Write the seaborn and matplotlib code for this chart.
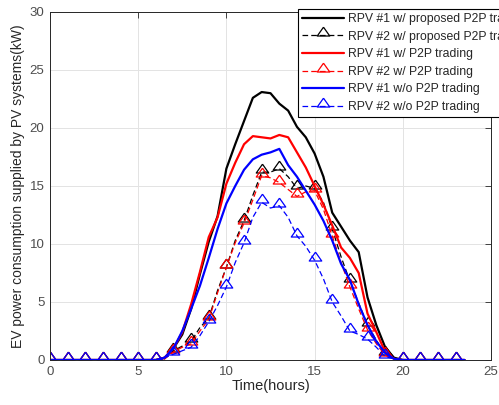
import numpy as np
import pandas as pd
import matplotlib
matplotlib.use('Agg')
import matplotlib.pyplot as plt
import seaborn as sns

# time axis, half-hour steps (0 .. 23.5 h)
hours = [i * 0.5 for i in range(48)]

# RPV #1 / #2 EV power supplied by PV (kW)
rpv1_proposed = [0] * 13 + [0.2, 1.0, 2.2, 4.4, 7.4, 10.2, 12.4, 16.5, 18.6, 20.6, 22.6, 23.1, 23.0, 22.1,
                            21.5, 20.1, 19.2, 17.8, 15.8, 12.7, 11.5, 10.3, 9.3, 5.4, 3.0, 1.1, 0.2] + [0] * 8
rpv2_proposed = [0] * 13 + [0.1, 0.8, 1.2, 1.6, 2.8, 3.6, 6.0, 8.0, 10.3, 12.0, 14.2, 16.2, 16.2, 16.5,
                            15.8, 14.8, 15.0, 14.8, 13.6, 11.3, 8.9, 6.8, 4.9, 3.0, 1.7, 0.5, 0.1] + [0] * 8
rpv1_p2p = [0] * 13 + [0.2, 1.0, 2.4, 4.8, 7.6, 10.6, 12.3, 15.2, 17.0, 18.6, 19.3, 19.2, 19.1, 19.4,
                       19.2, 17.9, 16.6, 15.0, 13.4, 11.6, 9.7, 8.8, 7.5, 4.0, 2.4, 0.7, 0.1] + [0] * 8
rpv2_p2p = [0] * 13 + [0.1, 0.7, 1.1, 1.4, 2.5, 3.5, 5.8, 8.0, 10.1, 11.8, 13.8, 15.9, 15.7, 15.3,
                       14.7, 14.1, 14.5, 14.6, 13.0, 10.7, 8.4, 6.3, 4.4, 2.6, 1.4, 0.4, 0.1] + [0] * 8
rpv1_no_p2p = [0] * 13 + [0.2, 1.0, 2.5, 4.4, 6.4, 8.8, 11.3, 13.5, 15.0, 16.4, 17.3, 17.7, 17.9, 18.2,
                          16.8, 15.8, 14.6, 13.4, 12.0, 10.3, 8.3, 6.9, 4.8, 3.0, 1.6, 0.6, 0.1] + [0] * 8
rpv2_no_p2p = [0] * 13 + [0.2, 0.5, 0.8, 1.1, 2.1, 3.3, 4.7, 6.3, 8.4, 10.1, 12.3, 13.6, 13.1, 13.3,
                          12.3, 10.7, 9.8, 8.6, 7.0, 5.0, 3.8, 2.5, 2.2, 1.8, 1.1, 0.3, 0.1] + [0] * 8

df = pd.DataFrame({'Time': hours,
                   'p1': rpv1_proposed, 'p2': rpv2_proposed,
                   'q1': rpv1_p2p, 'q2': rpv2_p2p,
                   'n1': rpv1_no_p2p, 'n2': rpv2_no_p2p})

sns.set_style('whitegrid')
plt.rcParams['font.family'] = ['Liberation Sans', 'DejaVu Sans']

fig = plt.figure(figsize=(4.99, 4.05), dpi=100)
ax = fig.add_axes([50 / 499, 45 / 405, 441 / 499, 348 / 405])

# triangle with its base on the data point (as in the original)
tri = [(0, 0.8), (-0.6, -0.05), (0.6, -0.05), (0, 0.8)]

series = [
    ('p1', 'k', 'RPV #1 w/ proposed P2P trading', False),
    ('p2', 'k', 'RPV #2 w/ proposed P2P trading', True),
    ('q1', '#ff0000', 'RPV #1 w/ P2P trading', False),
    ('q2', '#ff0000', 'RPV #2 w/ P2P trading', True),
    ('n1', '#0000ff', 'RPV #1 w/o P2P trading', False),
    ('n2', '#0000ff', 'RPV #2 w/o P2P trading', True),
]
for col, c, lab, dashed in series:
    if dashed:
        sns.lineplot(data=df, x='Time', y=col, ax=ax, color=c, label=lab,
                     linewidth=0.9, linestyle=(0, (4.5, 2.5)), marker=tri,
                     markersize=12, markevery=2, markerfacecolor='none',
                     markeredgecolor=c, markeredgewidth=0.9)
    else:
        sns.lineplot(data=df, x='Time', y=col, ax=ax, color=c, label=lab,
                     linewidth=1.6)

ax.set_xlim(0, 25)
ax.set_ylim(0, 30)
ax.set_xticks(range(0, 26, 5))
ax.set_yticks(range(0, 31, 5))
ax.set_xlabel('Time(hours)', fontsize=10.5, color='#262626', labelpad=1)
ax.set_ylabel('EV power consumption supplied by PV systems(kW)', fontsize=10,
              color='#262626', labelpad=3)
ax.tick_params(direction='in', length=4, width=0.6, colors='#262626',
               labelsize=9.5, top=True, right=True, pad=4)
ax.tick_params(axis='x', labelcolor='#4d4d4d')
ax.tick_params(axis='y', labelcolor='#4d4d4d')
ax.grid(True, color='#e3e3e3', linewidth=0.7)
for s in ax.spines.values():
    s.set_color('#262626')
    s.set_linewidth(0.7)

ax.get_legend().remove()
h, l = ax.get_legend_handles_labels()
leg = fig.legend(h, l, loc='upper left', bbox_to_anchor=(298 / 499, 1 - 9 / 405),
                 fontsize=8.8, frameon=True, fancybox=False, framealpha=1,
                 edgecolor='k', handlelength=3.4, handletextpad=0.3,
                 labelspacing=0.45, borderpad=0.35, borderaxespad=0)
leg.get_frame().set_linewidth(0.8)

fig.savefig('out.png', dpi=100)
